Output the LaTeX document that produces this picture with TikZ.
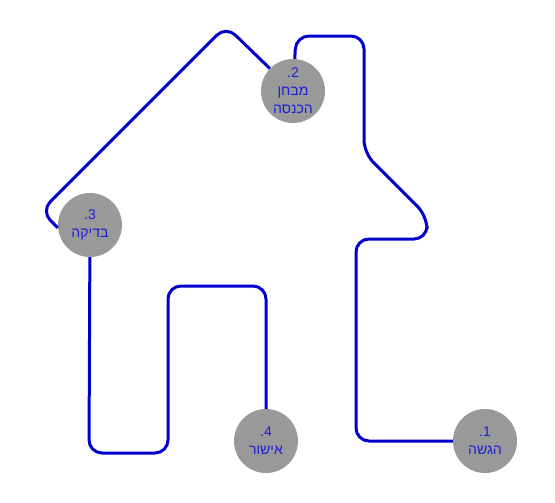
\documentclass[tikz,border=0pt]{standalone}
\usepackage{fontspec}
\setmainfont{Liberation Sans}
\newfontfamily\hebfont[Script=Hebrew]{Liberation Sans}
\TeXXeTstate=1
\definecolor{pathblue}{RGB}{0,0,204}
\definecolor{textblue}{RGB}{30,30,210}
\definecolor{stepgray}{RGB}{153,153,153}
\newcommand{\heb}[1]{{\hebfont\beginR #1\endR}}
\newcommand{\stepcircle}[4]{% name, x, y, text
\node[stepnode] (#1) at (#2,#3) {#4};
}

\begin{document}
\begin{tikzpicture}[x=0.03cm,y=-0.03cm,
  stepnode/.style={circle,fill=stepgray,minimum size=1.92cm,inner sep=0pt,
    text=textblue,align=center,font=\fontsize{12}{15.5}\selectfont},
  house/.style={draw=pathblue,line width=0.09cm,rounded corners=0.39cm}]
\useasboundingbox (0,0) rectangle (555,503);

%%%%%
\stepcircle{s1}{485}{441}{\heb{1.}\\\heb{הגשה}}
\stepcircle{s2}{293}{91}{\heb{2.}\\\heb{מבחן}\\\heb{הכנסה}}
\stepcircle{s3}{90}{225}{\heb{3.}\\\heb{בדיקה}}
\stepcircle{s4}{266}{441}{\heb{4.}\\\heb{אישור}}

%%%%%
\draw[house] (s1) -- (356,441) -- (356,239) -- (427,239) -- (427,216)
  -- (364,153) -- (364,36) -- (296,36) -- (s2);
\draw[house] (s2) -- (226,26) -- (41,211) -- (s3.185);
\draw[house] (s3) -- (89,453) -- (168,453) -- (168,286) -- (266,286) -- (s4);

\end{tikzpicture}
\end{document}
